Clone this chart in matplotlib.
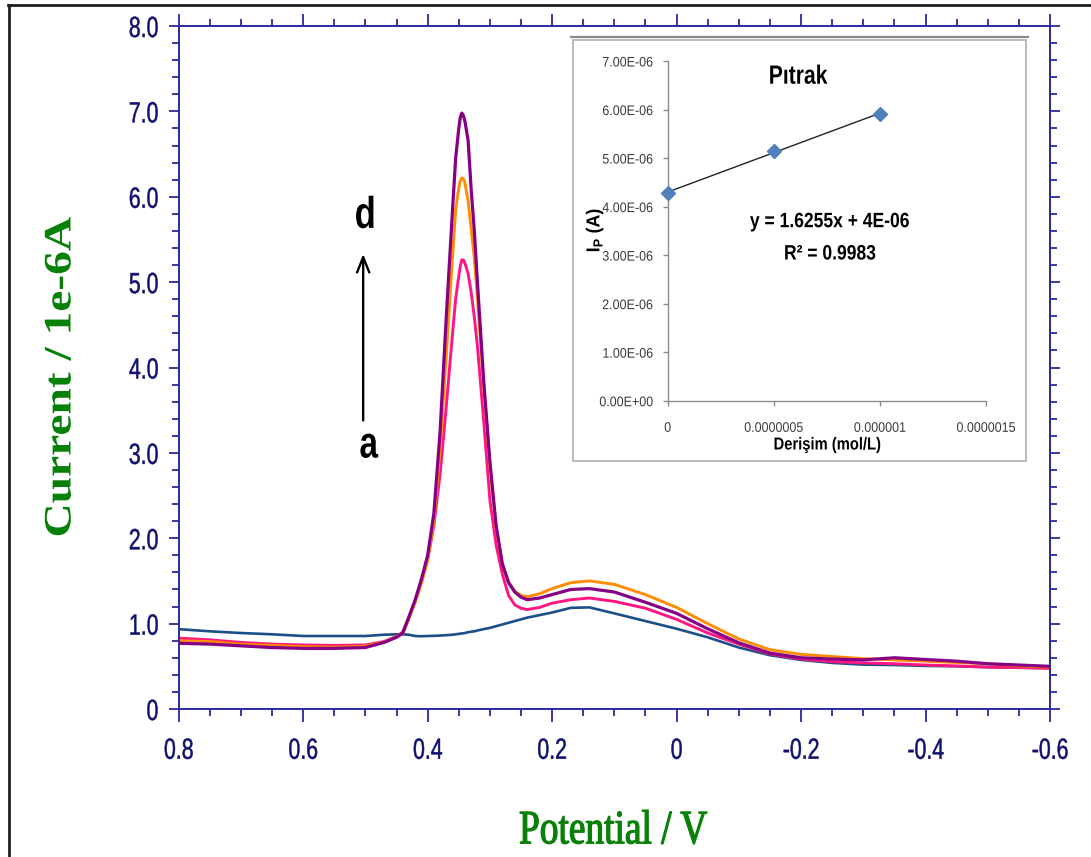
import numpy as np
import matplotlib
matplotlib.use("Agg")
import matplotlib.pyplot as plt
from matplotlib.patheffects import AbstractPathEffect
from matplotlib.transforms import Affine2D
from matplotlib.ticker import FixedLocator, MultipleLocator
from matplotlib.patches import Rectangle
from matplotlib.lines import Line2D

# ---------------- data ----------------
potential = [0.80, 0.75, 0.70, 0.65, 0.60, 0.55, 0.50, 0.47, 0.45, 0.44,
             0.43, 0.42, 0.41, 0.40, 0.39, 0.38, 0.37, 0.36, 0.355, 0.35,
             0.3475, 0.345, 0.3425, 0.34, 0.335, 0.33, 0.325, 0.32, 0.31, 0.30,
             0.29, 0.28, 0.27, 0.26, 0.25, 0.24, 0.22, 0.20, 0.17, 0.14,
             0.10, 0.05, 0.00, -0.05, -0.10, -0.15, -0.20, -0.25, -0.30,
             -0.35, -0.40, -0.45, -0.50, -0.55, -0.60]

current_a = [0.935, 0.91, 0.89, 0.875, 0.855, 0.855, 0.855, 0.87, 0.875, 0.875,
             0.87, 0.855, 0.852, 0.855, 0.857, 0.86, 0.865, 0.87, 0.875, 0.88,
             0.882, 0.885, 0.887, 0.89, 0.90, 0.905, 0.91, 0.92, 0.935, 0.95,
             0.97, 0.99, 1.01, 1.03, 1.05, 1.07, 1.10, 1.13, 1.185, 1.19,
             1.12, 1.03, 0.94, 0.84, 0.72, 0.63, 0.575, 0.54, 0.52,
             0.515, 0.505, 0.50, 0.49, 0.485, 0.48]

current_b = [0.83, 0.81, 0.78, 0.76, 0.75, 0.745, 0.75, 0.79, 0.85, 0.90,
             1.08, 1.26, 1.48, 1.75, 2.15, 2.75, 3.55, 4.40, 4.80, 5.07,
             5.19, 5.26, 5.26, 5.22, 5.10, 4.88, 4.59, 4.25, 3.38, 2.45,
             1.92, 1.58, 1.33, 1.22, 1.18, 1.165, 1.19, 1.24, 1.28, 1.30,
             1.26, 1.18, 1.05, 0.89, 0.76, 0.645, 0.585, 0.555, 0.54,
             0.53, 0.515, 0.505, 0.49, 0.485, 0.475]

current_c = [0.80, 0.79, 0.76, 0.745, 0.73, 0.725, 0.735, 0.785, 0.845, 0.885,
             1.06, 1.25, 1.48, 1.74, 2.20, 3.05, 4.15, 5.30, 5.85, 6.10,
             6.19, 6.22, 6.21, 6.16, 5.95, 5.62, 5.28, 4.82, 3.80, 2.85,
             2.12, 1.70, 1.49, 1.38, 1.33, 1.315, 1.35, 1.41, 1.48, 1.50,
             1.46, 1.34, 1.19, 1.00, 0.82, 0.695, 0.64, 0.615, 0.59,
             0.575, 0.56, 0.545, 0.53, 0.505, 0.49]

current_d = [0.77, 0.76, 0.74, 0.72, 0.71, 0.71, 0.72, 0.78, 0.84, 0.89,
             1.08, 1.28, 1.52, 1.80, 2.29, 3.25, 4.60, 5.85, 6.45, 6.80,
             6.93, 6.98, 6.95, 6.88, 6.66, 6.08, 5.60, 5.00, 3.85, 2.90,
             2.15, 1.70, 1.48, 1.37, 1.31, 1.28, 1.30, 1.34, 1.40, 1.41,
             1.37, 1.25, 1.12, 0.94, 0.775, 0.655, 0.60, 0.585, 0.575,
             0.60, 0.58, 0.56, 0.53, 0.515, 0.50]

curve_colors = ["#1b4f8a", "#ff1683", "#ff8c00", "#850085"]

x_ticks = [0.8, 0.6, 0.4, 0.2, 0.0, -0.2, -0.4, -0.6]
x_ticklabels = ["0.8", "0.6", "0.4", "0.2", "0", "-0.2", "-0.4", "-0.6"]
y_ticks = [0, 1, 2, 3, 4, 5, 6, 7, 8]
y_ticklabels = ["0", "1.0", "2.0", "3.0", "4.0", "5.0", "6.0", "7.0", "8.0"]

# calibration (inset)
conc = [0.0, 5e-7, 1e-6]
ip = [4.28e-6, 5.15e-6, 5.9055e-6]
inset_xticks = [0.0, 5e-7, 1e-6, 1.5e-6]
inset_xticklabels = ["0", "0.0000005", "0.000001", "0.0000015"]
inset_yticks = [0.0, 1e-6, 2e-6, 3e-6, 4e-6, 5e-6, 6e-6, 7e-6]
inset_yticklabels = ["0.00E+00", "1.00E-06", "2.00E-06", "3.00E-06",
                     "4.00E-06", "5.00E-06", "6.00E-06", "7.00E-06"]


class Stretch(AbstractPathEffect):
    """Draw text glyphs scaled horizontally (in the text's own frame),
    optionally thickened with an outline in the glyph colour."""

    def __init__(self, sx=1.0, anchor="center", stroke=0.0):
        super().__init__()
        self.sx = sx
        self.anchor = anchor
        self.stroke = stroke

    def draw_path(self, renderer, gc, tpath, affine, rgbFace=None):
        if len(tpath.vertices) == 0:
            return
        ext = tpath.get_extents()
        if self.anchor == "left":
            x0 = ext.x0
        elif self.anchor == "right":
            x0 = ext.x1
        else:
            x0 = 0.5 * (ext.x0 + ext.x1)
        t = Affine2D().translate(-x0, 0).scale(self.sx, 1.0).translate(x0, 0) + affine
        if self.stroke > 0 and rgbFace is not None:
            gc0 = renderer.new_gc()
            gc0.copy_properties(gc)
            gc0.set_linewidth(self.stroke)
            gc0.set_foreground(rgbFace)
            gc0.set_joinstyle("round")
            renderer.draw_path(gc0, tpath, t, rgbFace)
            gc0.restore()
        else:
            renderer.draw_path(gc, tpath, t, rgbFace)


W, H = 1091, 857
def fx(px):
    return px / W
def fy(py):
    return 1 - py / H

plt.rcParams["mathtext.fontset"] = "custom"
plt.rcParams["mathtext.rm"] = "Liberation Sans"
plt.rcParams["mathtext.bf"] = "Liberation Sans:bold"

fig = plt.figure(figsize=(W / 100, H / 100), dpi=100)
fig.patch.set_facecolor("white")

spine_c = "#2a2a9e"
label_c = "#10106e"
green = "#078007"

# ---------------- main voltammogram ----------------
ax = fig.add_axes([fx(178.7), fy(709), (1050 - 178.7) / W, (709 - 26) / H])
for y, c, lw in zip([current_a, current_b, current_c, current_d], curve_colors,
                    [1.9, 2.1, 2.1, 2.3]):
    ax.plot(potential, y, color=c, lw=lw, solid_joinstyle="round")

ax.set_xlim(0.8, -0.6)
ax.set_ylim(0, 8)
for s in ax.spines.values():
    s.set_color(spine_c)
    s.set_linewidth(1.4)

ax.xaxis.set_major_locator(FixedLocator(x_ticks))
ax.set_xticklabels(x_ticklabels)
ax.xaxis.set_minor_locator(MultipleLocator(0.05))
ax.yaxis.set_major_locator(FixedLocator(y_ticks))
ax.set_yticklabels(y_ticklabels)
ax.yaxis.set_minor_locator(MultipleLocator(0.2))

ax.tick_params(which="both", direction="out", top=True, right=True,
               color=spine_c, width=1.3, labelcolor=label_c,
               labelsize=21, labelfontfamily="Liberation Sans")
ax.tick_params(axis="x", which="major", length=9, pad=11)
ax.tick_params(axis="y", which="major", length=7.5, pad=7)
ax.tick_params(which="minor", length=4.8)
for t in ax.xaxis.get_major_ticks():
    t.label1.set_path_effects([Stretch(0.73, "center", stroke=0.35)])
for t in ax.yaxis.get_major_ticks():
    t.label1.set_path_effects([Stretch(0.73, "right", stroke=0.35)])

# arrow with series labels
ax.annotate("", xy=(0.5036, 5.33), xytext=(0.5036, 3.38),
            arrowprops=dict(arrowstyle="->,head_length=0.55,head_width=0.22",
                            mutation_scale=20, lw=1.7, color="black",
                            shrinkA=0, shrinkB=0))
ax.text(0.50, 5.77, "d", fontsize=32, fontweight="bold", family="Liberation Sans",
        ha="center", va="center", color="black",
        path_effects=[Stretch(0.78, "center")])
ax.text(0.495, 3.08, "a", fontsize=32, fontweight="bold", family="Liberation Sans",
        ha="center", va="center", color="black",
        path_effects=[Stretch(0.75, "center")])

# axis titles
fig.text(fx(613), fy(843.3), "Potential / V", fontsize=34.5,
         family="Liberation Serif", color=green, ha="center", va="baseline",
         path_effects=[Stretch(0.78, "center", stroke=0.9)])
fig.text(fx(61), fy(377), "Current / 1e-6A", fontsize=28, fontweight="bold",
         family="Liberation Serif", color=green, ha="center", va="center",
         rotation=90, path_effects=[Stretch(1.22, "center")])

# ---------------- inset calibration plot ----------------
frame = Rectangle((fx(572.7), fy(461)), (1026 - 572.7) / W, (461 - 39.5) / H,
                  transform=fig.transFigure, facecolor="white",
                  edgecolor="#b4b4b4", lw=1.3, zorder=1)
fig.add_artist(frame)
fig.add_artist(Line2D([fx(571), fx(1028)], [fy(37), fy(37)],
                      transform=fig.transFigure, color="#8a8a8a", lw=1.6, zorder=2))

ax2 = fig.add_axes([fx(667.7), fy(400.7), (986 - 667.7) / W, (400.7 - 61) / H])
ax2.set_zorder(3)
ax2.patch.set_alpha(0)
ax2.spines["top"].set_visible(False)
ax2.spines["right"].set_visible(False)
for k in ("left", "bottom"):
    ax2.spines[k].set_color("#8c8c8c")
    ax2.spines[k].set_linewidth(1.0)
ax2.set_xlim(0, 1.5e-6)
ax2.set_ylim(0, 7e-6)
ax2.xaxis.set_major_locator(FixedLocator(inset_xticks))
ax2.set_xticklabels(inset_xticklabels)
ax2.yaxis.set_major_locator(FixedLocator(inset_yticks))
ax2.set_yticklabels(inset_yticklabels)
ax2.tick_params(direction="out", length=3.5, width=1.0, color="#8c8c8c",
                labelcolor="#3a3a3a", labelsize=10,
                labelfontfamily="Liberation Sans")
ax2.tick_params(axis="x", pad=11)
ax2.tick_params(axis="y", pad=7)
for t in ax2.xaxis.get_major_ticks():
    t.label1.set_path_effects([Stretch(0.9, "center")])
for t in ax2.yaxis.get_major_ticks():
    t.label1.set_path_effects([Stretch(0.9, "right")])

coef = np.polyfit(conc, ip, 1)
xfit = np.array([conc[0], conc[-1]])
ax2.plot(xfit, np.polyval(coef, xfit), color="#222222", lw=1.0, zorder=2)
ax2.plot(conc, ip, linestyle="none", marker="D", ms=7.5, color="#4f81bd",
         mec="#4f81bd", zorder=3, clip_on=False)

fig.text(fx(798), fy(76.7), "Pıtrak", fontsize=19, fontweight="bold",
         family="Liberation Sans", ha="center", va="center", zorder=4,
         path_effects=[Stretch(0.8, "center")])
fig.text(fx(830), fy(221.7), "y = 1.6255x + 4E-06", fontsize=15,
         fontweight="bold", family="Liberation Sans", ha="center",
         va="center", zorder=4, path_effects=[Stretch(0.84, "center")])
fig.text(fx(830), fy(254), "R² = 0.9983", fontsize=15, fontweight="bold",
         family="Liberation Sans", ha="center", va="center", zorder=4,
         path_effects=[Stretch(0.84, "center")])
fig.text(fx(827.5), fy(445), "Derişim (mol/L)", fontsize=12.5,
         fontweight="bold", family="Liberation Sans", ha="center",
         va="center", zorder=4, path_effects=[Stretch(0.85, "center")])
fig.text(fx(595), fy(230), r"I$_\mathbf{P}$ (A)", fontsize=13.5,
         fontweight="bold", family="Liberation Sans", ha="center",
         va="center", rotation=90, zorder=4,
         path_effects=[Stretch(0.95, "center")])

# outer frame lines
fig.add_artist(Line2D([fx(9.3), fx(9.3)], [fy(5.3), 0], transform=fig.transFigure,
                      color="#1e1e1e", lw=2.0, zorder=5))
fig.add_artist(Line2D([fx(8), 1], [fy(5.3), fy(5.3)], transform=fig.transFigure,
                      color="#1e1e1e", lw=2.0, zorder=5))

fig.savefig("out.png", dpi=100, facecolor="white")
